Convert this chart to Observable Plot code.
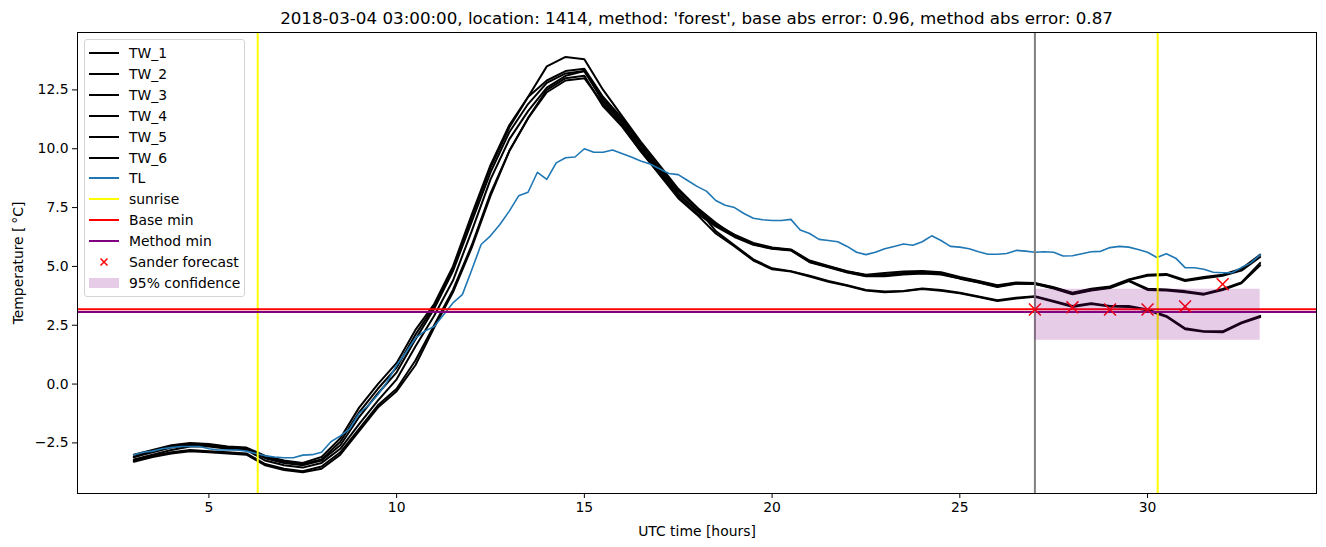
<!DOCTYPE html>
<html><head><meta charset="utf-8">
<script src="https://cdn.jsdelivr.net/npm/d3@7"></script>
<script src="https://cdn.jsdelivr.net/npm/@observablehq/plot@0.6"></script>
<style>
body{margin:0;background:#fff;font-family:"DejaVu Sans",sans-serif;}
#wrap{position:relative;width:1326px;height:547px;overflow:hidden;}
#title{position:absolute;left:77px;width:1239px;top:0;height:32px;line-height:36px;text-align:center;font-size:16.7px;color:#000;z-index:2;}
#chart{position:absolute;left:0;top:22px;z-index:1;}
#legend{position:absolute;left:84px;top:39px;width:159px;height:256px;border:1px solid #d4d4d4;border-radius:3px;background:rgba(255,255,255,0.8);font-size:13.9px;color:#000;z-index:3;}
.row{position:absolute;left:0;height:20px;display:flex;align-items:center;white-space:nowrap;}
.row svg{margin-right:10px;}
</style>
</head><body>
<div id="wrap">
  <div id="title"></div>
  <div id="chart"></div>
  <div id="legend"></div>
</div>
<script>
const titleText = "2018-03-04 03:00:00, location: 1414, method: 'forest', base abs error: 0.96, method abs error: 0.87";
const xLabel = "UTC time [hours]";
const yLabel = "Temperature [\u2009°C]";
const xTicks = [5, 10, 15, 20, 25, 30];
const yTicks = [-2.5, 0, 2.5, 5, 7.5, 10, 12.5];

const hours = [3,3.5,4,4.5,5,5.5,6,6.5,7,7.5,8,8.5,9,9.5,10,10.5,11,11.5,12,12.5,13,13.5,14,14.5,15,15.5,16,16.5,17,17.5,18,18.5,19,19.5,20,20.5,21,21.5,22,22.5,23,23.5,24,24.5,25,25.5,26,26.5,27,27.5,28,28.5,29,29.5,30,30.5,31,31.5,32,32.5,33];

const TW_1 = [-3.1,-2.9,-2.7,-2.6,-2.6,-2.7,-2.75,-3.15,-3.35,-3.45,
-3.25,-2.6,-1.4,-0.4,0.5,1.9,3.2,4.8,6.9,9.0,
10.7,11.9,12.8,13.2,13.3,12.1,11.2,10.1,9.1,8.1,
7.4,6.8,6.35,6.0,5.8,5.72,5.25,5.02,4.8,4.65,
4.72,4.78,4.8,4.75,4.55,4.38,4.2,4.32,4.3,4.12,
3.88,4.05,4.15,4.45,4.65,4.68,4.42,4.55,4.65,4.9,
5.5];
const TW_2 = [-3.2,-3.0,-2.8,-2.65,-2.65,-2.75,-2.8,-3.25,-3.45,-3.55,
-3.35,-2.75,-1.7,-0.7,0.2,1.6,2.9,4.4,6.5,8.7,
10.4,11.6,12.6,13.1,13.3,12.0,11.1,10.0,9.05,8.05,
7.35,6.75,6.3,5.95,5.78,5.7,5.2,4.98,4.76,4.6,
4.6,4.7,4.72,4.68,4.5,4.33,4.15,4.28,4.26,4.08,
3.84,4.0,4.1,4.42,4.6,4.64,4.38,4.5,4.6,4.82,
5.4];
const TW_3 = [-3.0,-2.8,-2.6,-2.5,-2.55,-2.65,-2.7,-3.05,-3.25,-3.35,
-3.1,-2.3,-1.0,0.0,0.9,2.3,3.4,5.0,7.2,9.3,
11.0,12.2,12.9,13.3,13.4,12.2,11.3,10.2,9.2,8.2,
7.5,6.85,6.3,5.95,5.76,5.7,5.2,5.0,4.78,4.62,
4.65,4.72,4.75,4.72,4.52,4.36,4.18,4.3,4.28,4.1,
3.86,4.02,4.12,4.4,4.05,4.02,3.95,3.84,4.04,4.32,
5.15];
const TW_4 = [-3.25,-3.05,-2.9,-2.8,-2.85,-2.9,-2.95,-3.4,-3.6,-3.7,
-3.5,-2.9,-1.9,-0.9,-0.2,1.0,2.5,4.0,5.9,8.1,
9.9,11.3,12.4,12.9,13.0,11.9,11.0,9.9,8.95,7.95,
7.25,6.7,6.25,5.92,5.75,5.68,5.18,4.96,4.74,4.58,
4.58,4.66,4.7,4.66,4.48,4.32,4.12,4.26,4.25,4.06,
3.82,3.98,4.08,4.38,4.0,3.98,3.9,3.8,4.0,4.28,
5.05];
const TW_5 = [-3.1,-2.85,-2.65,-2.55,-2.6,-2.7,-2.75,-3.1,-3.3,-3.4,
-3.2,-2.45,-1.2,-0.2,0.7,2.1,3.3,4.9,7.1,9.2,
10.9,12.2,13.5,13.9,13.8,12.5,11.4,10.3,9.3,8.3,
7.5,6.5,5.9,5.3,4.92,4.8,4.6,4.38,4.2,4.0,
3.93,3.96,4.06,4.0,3.88,3.72,3.56,3.67,3.73,3.53,
3.32,3.44,3.32,3.32,3.17,2.9,2.37,2.25,2.24,2.62,
2.9];
const TW_6 = [-3.3,-3.1,-2.95,-2.85,-2.9,-2.95,-3.0,-3.45,-3.65,-3.75,
-3.6,-3.0,-2.0,-1.0,-0.3,0.8,2.4,3.9,5.8,8.0,
9.9,11.3,12.5,13.0,13.1,11.8,10.95,9.9,8.9,7.9,
7.2,6.4,5.85,5.25,4.88,4.78,4.57,4.35,4.18,3.98,
3.9,3.94,4.04,3.97,3.86,3.7,3.53,3.64,3.71,3.5,
3.28,3.4,3.3,3.28,3.13,2.86,2.33,2.22,2.2,2.58,
2.85];

const tlHours = [3,3.25,3.5,3.75,4,4.25,4.5,4.75,5,5.25,5.5,5.75,6,6.25,6.5,6.75,7,7.25,7.5,7.75,8,8.25,8.5,8.75,9,9.25,9.5,9.75,10,10.25,10.5,10.75,11,11.25,11.5,11.75,12,12.25,12.5,12.75,13,13.25,13.5,13.75,14,14.25,14.5,14.75,15,15.25,15.5,15.75,16,16.25,16.5,16.75,17,17.25,17.5,17.75,18,18.25,18.5,18.75,19,19.25,19.5,19.75,20,20.25,20.5,20.75,21,21.25,21.5,21.75,22,22.25,22.5,22.75,23,23.25,23.5,23.75,24,24.25,24.5,24.75,25,25.25,25.5,25.75,26,26.25,26.5,26.75,27,27.25,27.5,27.75,28,28.25,28.5,28.75,29,29.25,29.5,29.75,30,30.25,30.5,30.75,31,31.25,31.5,31.75,32,32.25,32.5,32.75,33];
const TL = [-3.0,-2.9,-2.85,-2.75,-2.7,-2.65,-2.65,-2.65,-2.75,-2.8,-2.8,-2.8,
-2.85,-2.95,-3.05,-3.1,-3.13,-3.13,-3.02,-3.0,
-2.9,-2.45,-2.2,-1.9,-1.25,-0.9,-0.45,0.1,
0.8,1.35,1.95,2.25,2.45,2.95,3.45,3.8,
4.85,5.93,6.3,6.78,7.35,8.0,8.15,9.0,
8.7,9.4,9.62,9.65,10.0,9.85,9.85,9.95,
9.8,9.65,9.48,9.35,9.15,8.95,8.9,8.65,
8.4,8.2,7.8,7.6,7.5,7.25,7.05,6.98,
6.95,6.95,7.0,6.55,6.4,6.15,6.1,6.05,
5.85,5.6,5.5,5.6,5.75,5.85,5.95,5.9,
6.05,6.3,6.1,5.85,5.82,5.75,5.62,5.52,
5.52,5.55,5.68,5.65,5.6,5.62,5.6,5.44,
5.45,5.54,5.62,5.64,5.8,5.85,5.82,5.72,
5.6,5.38,5.54,5.35,4.95,4.94,4.88,4.75,
4.73,4.73,4.95,5.15,5.5];

const sunrise = [6.3, 30.27];
const forecastTime = [27.0];
const baseMin = 3.18;
const methodMin = 3.06;
const sanderHours = [27, 28, 29, 30, 31, 32];
const sanderTemps = [3.17, 3.26, 3.17, 3.17, 3.30, 4.24];
const confHours = [27, 33];
const confTemps = [1.86, 4.03];

const twNames = ["TW_1","TW_2","TW_3","TW_4","TW_5","TW_6"];
const twSeries = [TW_1, TW_2, TW_3, TW_4, TW_5, TW_6];

const twData = twNames.flatMap((n, i) => hours.map((h, j) => ({name: n, h, t: twSeries[i][j]})));
const tlData = tlHours.map((h, j) => ({h, t: TL[j]}));
const sander = sanderHours.map((h, j) => ({h, t: sanderTemps[j]}));
const conf = [{x1: confHours[0], x2: confHours[1], y1: confTemps[0], y2: confTemps[1]}];

document.getElementById("title").textContent = titleText;

const chart = Plot.plot({
  width: 1326, height: 525,
  marginTop: 10, marginBottom: 54, marginLeft: 77, marginRight: 10,
  style: {fontFamily: "DejaVu Sans", fontSize: "13.9px", color: "black", background: "transparent", overflow: "visible"},
  x: {domain: [1.5, 34.5]},
  y: {domain: [-4.65, 14.94]},
  marks: [
    Plot.line(twData, {x: "h", y: "t", z: "name", stroke: "black", strokeWidth: 2}),
    Plot.line(tlData, {x: "h", y: "t", stroke: "#1f77b4", strokeWidth: 1.6}),
    Plot.ruleX(sunrise, {stroke: "#ffff00", strokeWidth: 2}),
    Plot.ruleY([baseMin], {stroke: "red", strokeWidth: 2}),
    Plot.ruleY([methodMin], {stroke: "purple", strokeWidth: 2}),
    Plot.ruleX(forecastTime, {stroke: "gray", strokeWidth: 2}),
    Plot.dot(sander, {x: "h", y: "t", symbol: "times", r: 5.5, stroke: "red", strokeWidth: 1.5}),
    Plot.rect(conf, {x1: "x1", x2: "x2", y1: "y1", y2: "y2", fill: "purple", fillOpacity: 0.2}),
    Plot.frame({stroke: "black", strokeWidth: 1}),
    Plot.axisX({ticks: xTicks, tickFormat: d3.format("d"), tickSize: 5, tickPadding: 4,
      label: xLabel, labelAnchor: "center", labelOffset: 42, labelArrow: "none"}),
    Plot.axisY({ticks: yTicks, tickFormat: d3.format(".1f"), tickSize: 5, tickPadding: 4,
      label: yLabel, labelAnchor: "center", labelOffset: 64, labelArrow: "none"})
  ]
});
document.getElementById("chart").appendChild(chart);

// Legend
const legendItems = [
  ...twNames.map(n => ({label: n, kind: "line", color: "black"})),
  {label: "TL", kind: "line", color: "#1f77b4"},
  {label: "sunrise", kind: "line", color: "#ffff00"},
  {label: "Base min", kind: "line", color: "red"},
  {label: "Method min", kind: "line", color: "purple"},
  {label: "Sander forecast", kind: "x", color: "red"},
  {label: "95% confidence", kind: "patch", color: "purple"}
];
const legend = document.getElementById("legend");
legendItems.forEach((it, i) => {
  const row = document.createElement("div");
  row.className = "row";
  row.style.top = (3 + 20.9 * i) + "px";
  let g;
  if (it.kind === "line") g = `<line x1="4" x2="34" y1="10" y2="10" stroke="${it.color}" stroke-width="2"/>`;
  else if (it.kind === "x") g = `<path d="M15.5,6.5L22.5,13.5M22.5,6.5L15.5,13.5" stroke="${it.color}" stroke-width="1.5"/>`;
  else g = `<rect x="4" y="5" width="30" height="10" fill="${it.color}" fill-opacity="0.2"/>`;
  row.innerHTML = `<svg width="34" height="20">${g}</svg><span>${it.label}</span>`;
  legend.appendChild(row);
});
</script>
</body></html>
